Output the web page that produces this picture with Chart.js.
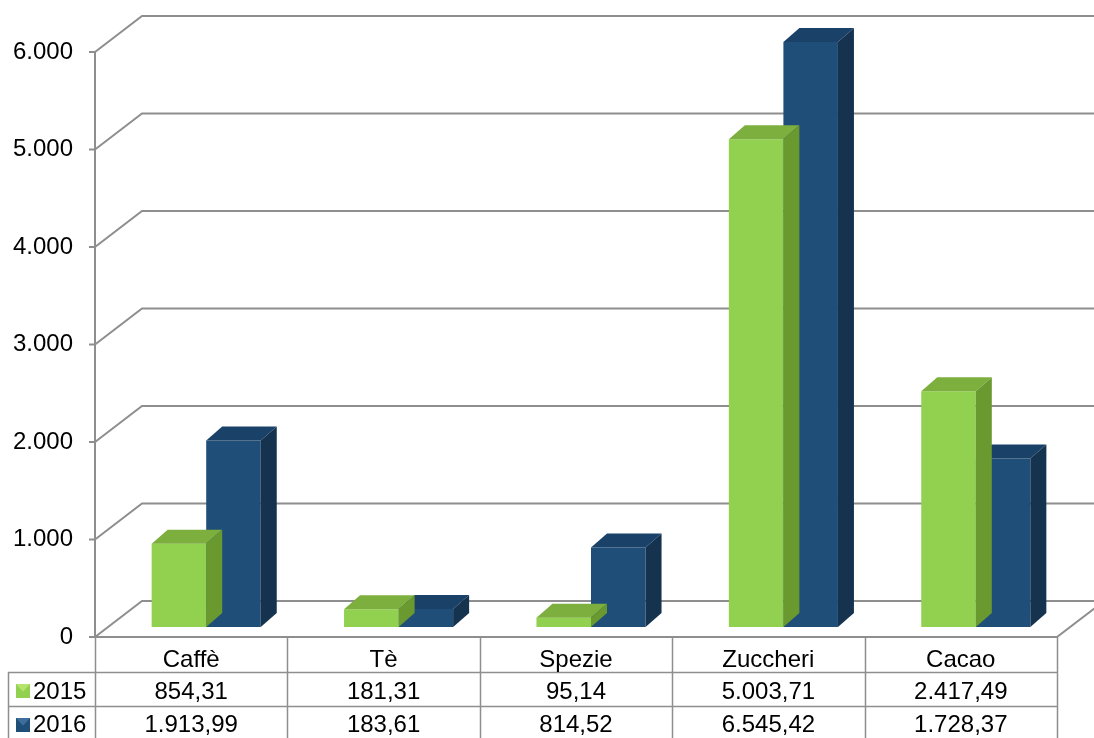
<!DOCTYPE html>
<html><head><meta charset="utf-8">
<script src="https://cdn.jsdelivr.net/npm/chart.js@4/dist/chart.umd.min.js"></script>
<style>
html,body{margin:0;padding:0;background:#fff;}
#wrap{position:relative;width:1094px;height:738px;overflow:hidden;}
canvas{position:absolute;left:0;top:0;}
.cell{position:absolute;box-sizing:border-box;font-family:'Liberation Sans',Arial,sans-serif;font-size:24px;color:#000;text-align:center;white-space:nowrap;}
</style></head><body>
<div id="wrap"><canvas id="c" width="1094" height="738"></canvas></div>
<script>
const categories = ['Caffè', 'Tè', 'Spezie', 'Zuccheri', 'Cacao'];
const seriesNames = ['2015', '2016'];
const values2015 = [854.31, 181.31, 95.14, 5003.71, 2417.49];
const values2016 = [1913.99, 183.61, 814.52, 6545.42, 1728.37];
const yTicks = [0, 1000, 2000, 3000, 4000, 5000, 6000];

const FONT = "'Liberation Sans', Arial, sans-serif";
const frontColors = ['#92D050', '#1F4E79'];
const topColors = ['#7CAF3D', '#1A4268'];
const sideColors = ['#6A9A2F', '#15324F'];
const lineColor = '#8E8E8E';

// geometry of the pseudo-3D box
const BAR_DX = 15, BAR_DY = -10;      // bar plane offset from front plane
const DEPTH_X = 16, DEPTH_Y = -14;    // bar depth
const WALL_X = 47, WALL_Y = -36;      // back wall offset

function itInt(v) {
  return String(Math.round(v)).replace(/\B(?=(\d{3})+(?!\d))/g, '.');
}
function itDec(v) {
  const parts = v.toFixed(2).split('.');
  return parts[0].replace(/\B(?=(\d{3})+(?!\d))/g, '.') + ',' + parts[1];
}

const threeD = {
  id: 'threeD',
  beforeDatasetsDraw(chart) {
    const ctx = chart.ctx, a = chart.chartArea, ys = chart.scales.y;
    ctx.save();
    ctx.strokeStyle = lineColor;
    ctx.lineWidth = 2;
    yTicks.forEach(v => {
      const y = ys.getPixelForValue(v);
      ctx.beginPath();
      ctx.moveTo(a.left, y);
      ctx.lineTo(a.left + WALL_X, y + WALL_Y);
      ctx.lineTo(chart.width + 20, y + WALL_Y);
      ctx.stroke();
      ctx.beginPath();
      ctx.moveTo(a.left - 6, y);
      ctx.lineTo(a.left, y);
      ctx.stroke();
    });
    ctx.beginPath();
    ctx.moveTo(a.left, ys.getPixelForValue(yTicks[yTicks.length - 1]));
    ctx.lineTo(a.left, ys.getPixelForValue(0));
    ctx.stroke();
    const y0 = ys.getPixelForValue(0);
    ctx.beginPath();
    ctx.moveTo(a.left, y0);
    ctx.lineTo(a.right, y0);
    ctx.lineTo(a.right + WALL_X, y0 + WALL_Y);
    ctx.stroke();
    ctx.restore();
  },
  beforeDatasetDraw(chart) {
    chart.ctx.save();
    chart.ctx.translate(BAR_DX, BAR_DY);
  },
  afterDatasetDraw(chart, args) {
    const ctx = chart.ctx, a = chart.chartArea;
    const di = args.index;
    args.meta.data.forEach(el => {
      const p = el.getProps(['x', 'y', 'base', 'width'], true);
      const l = p.x - p.width / 2, r = p.x + p.width / 2;
      const t = Math.max(p.y, a.top), b = p.base;
      ctx.fillStyle = topColors[di];
      ctx.beginPath();
      ctx.moveTo(l, t);
      ctx.lineTo(r, t);
      ctx.lineTo(r + DEPTH_X, t + DEPTH_Y);
      ctx.lineTo(l + DEPTH_X, t + DEPTH_Y);
      ctx.closePath();
      ctx.fill();
      ctx.fillStyle = sideColors[di];
      ctx.beginPath();
      ctx.moveTo(r, t);
      ctx.lineTo(r + DEPTH_X, t + DEPTH_Y);
      ctx.lineTo(r + DEPTH_X, b + DEPTH_Y);
      ctx.lineTo(r, b);
      ctx.closePath();
      ctx.fill();
    });
    ctx.restore();
  },
  afterDraw(chart) {
    const ctx = chart.ctx, a = chart.chartArea;
    const n = categories.length, colW = (a.right - a.left) / n;
    const y0 = chart.scales.y.getPixelForValue(0);
    const r1 = y0 + 35, r2 = r1 + 34, r3 = chart.height;
    ctx.save();
    ctx.strokeStyle = lineColor;
    ctx.lineWidth = 1.5;
    for (let i = 0; i <= n; i++) {
      const x = Math.round(a.left + i * colW) + 0.5;
      ctx.beginPath(); ctx.moveTo(x, y0); ctx.lineTo(x, r3); ctx.stroke();
    }
    ctx.beginPath(); ctx.moveTo(8.5, r1); ctx.lineTo(8.5, r3); ctx.stroke();
    [r1, r2].forEach(y => {
      ctx.beginPath(); ctx.moveTo(8, y + 0.5); ctx.lineTo(a.right, y + 0.5); ctx.stroke();
    });
    [r1, r2].forEach((ry, i) => {
      const x = 16, y = ry + 12, s = 14;
      ctx.fillStyle = frontColors[i];
      ctx.fillRect(x, y, s, s);
      ctx.fillStyle = i === 0 ? '#B4E46C' : '#3D6E9C';
      ctx.beginPath();
      ctx.moveTo(x, y); ctx.lineTo(x + s, y); ctx.lineTo(x + s / 2, y + s * 0.55); ctx.closePath();
      ctx.fill();
    });
    ctx.restore();
  }
};

const chart = new Chart(document.getElementById('c'), {
  type: 'bar',
  data: {
    labels: categories,
    datasets: [
      { label: seriesNames[0], data: values2015, backgroundColor: frontColors[0] },
      { label: seriesNames[1], data: values2016, backgroundColor: frontColors[1] }
    ]
  },
  options: {
    responsive: false,
    animation: false,
    layout: { padding: { top: 52, bottom: 101, right: 37, left: 0 } },
    plugins: { legend: { display: false }, tooltip: { enabled: false } },
    datasets: { bar: { categoryPercentage: 0.567, barPercentage: 1, borderWidth: 0 } },
    scales: {
      x: { display: false },
      y: {
        min: 0, max: 6000,
        afterFit(s) { s.width = 95; },
        grid: { display: false, drawTicks: false },
        border: { display: false },
        ticks: {
          stepSize: 1000, padding: 22, color: '#000',
          font: { family: FONT, size: 24 },
          callback: v => itInt(v)
        }
      }
    }
  },
  plugins: [threeD]
});

(function buildTable() {
  const wrap = document.getElementById('wrap');
  const a = chart.chartArea;
  const n = categories.length, colW = (a.right - a.left) / n;
  const y0 = chart.scales.y.getPixelForValue(0);
  const rows = [
    { top: y0 + 4, h: 35, texts: categories },
    { top: y0 + 36, h: 35, texts: values2015.map(itDec), name: seriesNames[0] },
    { top: y0 + 69, h: 35, texts: values2016.map(itDec), name: seriesNames[1] }
  ];
  rows.forEach(r => {
    r.texts.forEach((t, i) => {
      const d = document.createElement('div');
      d.className = 'cell';
      d.textContent = t;
      d.style.left = (a.left + i * colW) + 'px';
      d.style.width = colW + 'px';
      d.style.top = r.top + 'px';
      d.style.height = r.h + 'px';
      d.style.lineHeight = r.h + 'px';
      wrap.appendChild(d);
    });
    if (r.name) {
      const d = document.createElement('div');
      d.className = 'cell';
      d.textContent = r.name;
      d.style.left = '33px';
      d.style.textAlign = 'left';
      d.style.top = r.top + 'px';
      d.style.height = r.h + 'px';
      d.style.lineHeight = r.h + 'px';
      wrap.appendChild(d);
    }
  });
})();
</script>
</body></html>
